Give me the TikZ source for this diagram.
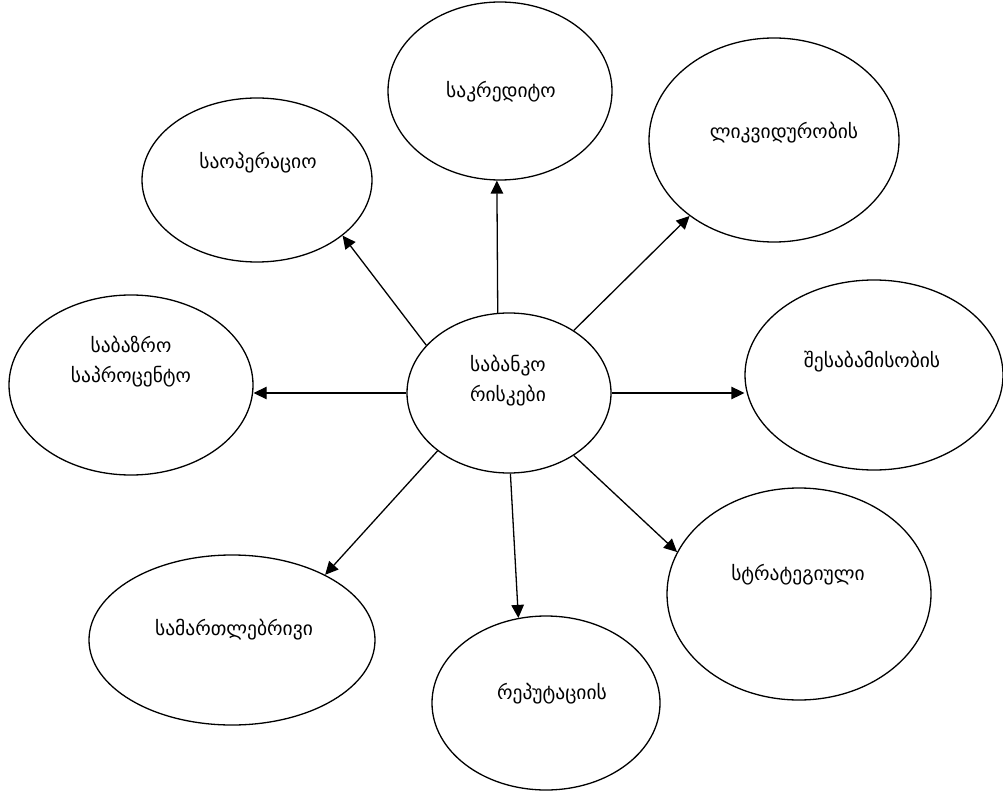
\documentclass[tikz,border=0pt]{standalone}
\usepackage{fontspec}
\setmainfont{DejaVu Sans}
\usetikzlibrary{arrows.meta,shapes.geometric}
\tikzset{
  oval/.style={ellipse, draw, line width=1.3pt, inner sep=0pt},
  lbl/.style={font=\fontsize{19.5}{30}\selectfont, align=center, inner sep=0pt},
  arr/.style={line width=1.3pt, -{Triangle[length=13pt,width=12.5pt]}},
}
\begin{document}
\begin{tikzpicture}[x=1pt,y=-1pt]
\useasboundingbox[fill=white] (0,0) rectangle (1003,791);

% central ellipse
\node[oval, minimum width=204pt, minimum height=160pt] (c) at (509,393) {};
\node[lbl] (ct) at (508,381) {საბანკო\\რისკები};

% surrounding risk types
\node[oval, minimum width=224pt, minimum height=178pt] (cred) at (500,91) {};
\node[lbl] (credt) at (501,92) {საკრედიტო};

\node[oval, minimum width=230pt, minimum height=164pt] (oper) at (257,180) {};
\node[lbl] (opert) at (258,163) {საოპერაციო};

\node[oval, minimum width=250pt, minimum height=204pt] (liq) at (774,140) {};
\node[lbl] (liqt) at (784,133) {ლიკვიდურობის};

\node[oval, minimum width=244pt, minimum height=180pt] (bazr) at (131,385) {};
\node[lbl] (bazrt) at (131,362) {საბაზრო\\საპროცენტო};

\node[oval, minimum width=258pt, minimum height=190pt] (comp) at (874,375) {};
\node[lbl] (compt) at (872,362) {შესაბამისობის};

\node[oval, minimum width=264pt, minimum height=212pt] (strat) at (799,594) {};
\node[lbl] (stratt) at (798,575) {სტრატეგიული};

\node[oval, minimum width=286pt, minimum height=170pt] (legal) at (232,640) {};
\node[lbl] (legalt) at (234,630) {სამართლებრივი};

\node[oval, minimum width=228pt, minimum height=174pt] (rep) at (546,703) {};
\node[lbl] (rept) at (552,694) {რეპუტაციის};

% connectors from the central ellipse
\draw[arr] (c.98) -- (cred.268);
\draw[arr] (c.150) -- (oper.327);
\draw[arr] (c.44) -- (liq.222);
\draw[arr] (c.west) -- (bazr.east |- c.west);
\draw[arr] (c.east) -- (comp.west |- c.east);
\draw[arr] (c.219) -- (legal.35);
\draw[arr] (c.271) -- (rep.108);
\draw[arr] (c.316) -- (strat.161);
\end{tikzpicture}
\end{document}
